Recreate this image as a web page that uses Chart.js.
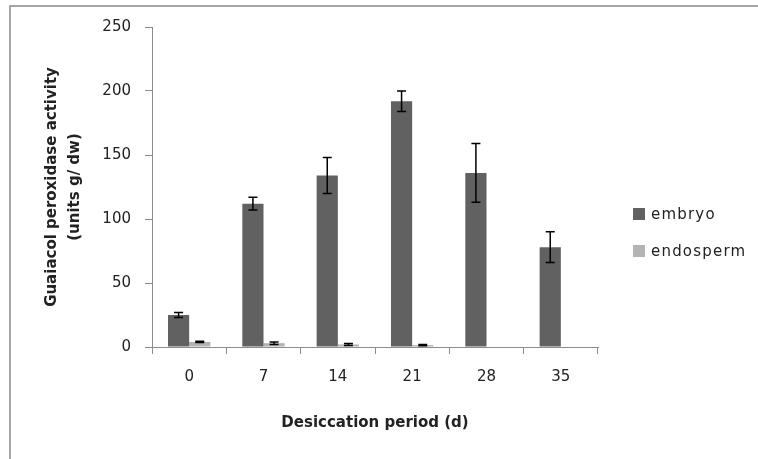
<!DOCTYPE html>
<html>
<head>
<meta charset="utf-8">
<script src="https://cdn.jsdelivr.net/npm/chart.js@4.4.1/dist/chart.umd.min.js"></script>
<style>
  html, body { margin: 0; padding: 0; background: #fff; }
  body { width: 758px; height: 459px; overflow: hidden; position: relative; font-family: "DejaVu Sans", sans-serif; }
  #frame { position: absolute; left: 9px; top: 5px; width: 800px; height: 500px; border-left: 2px solid #a6a6a6; border-top: 2px solid #a6a6a6; }
  #chart { position: absolute; left: 0; top: 0; }
  #legend { position: absolute; left: 633px; top: 207px; font-size: 15px; letter-spacing: 1.2px; color: #222; }
  .item { display: flex; align-items: center; height: 14px; margin-bottom: 23px; }
  .swatch { width: 12px; height: 12px; margin-right: 6px; }
</style>
</head>
<body>
<div id="frame"></div>
<canvas id="chart" width="758" height="459"></canvas>
<div id="legend"></div>
<script>
// values
const periods = ['0', '7', '14', '21', '28', '35'];
const embryo = [25, 112, 134, 192, 136, 78];
const embryoErr = [2, 5, 14, 8, 23, 12];
const endosperm = [4, 3, 2, 1.5, 0, 0];
const endospermErr = [0.5, 1, 0.8, 0.5, 0, 0];
const yTicks = [0, 50, 100, 150, 200, 250];

const font = 'DejaVu Sans';

// little plugin for the error bars
const errorBars = {
  id: 'errorBars',
  afterDatasetsDraw(chart) {
    const ctx = chart.ctx;
    const y = chart.scales.y;
    chart.data.datasets.forEach((ds, i) => {
      const meta = chart.getDatasetMeta(i);
      meta.data.forEach((bar, j) => {
        const v = ds.data[j], e = ds.errors[j];
        if (!e) return;
        const top = y.getPixelForValue(v + e);
        const bot = y.getPixelForValue(v - e);
        ctx.save();
        ctx.strokeStyle = '#000';
        ctx.lineWidth = 1.5;
        ctx.beginPath();
        ctx.moveTo(bar.x, top); ctx.lineTo(bar.x, bot);
        ctx.moveTo(bar.x - 4.5, top); ctx.lineTo(bar.x + 4.5, top);
        ctx.moveTo(bar.x - 4.5, bot); ctx.lineTo(bar.x + 4.5, bot);
        ctx.stroke();
        ctx.restore();
      });
    });
  }
};

const chart = new Chart(document.getElementById('chart'), {
  type: 'bar',
  data: {
    labels: periods,
    datasets: [
      { label: 'embryo', data: embryo, errors: embryoErr, backgroundColor: '#616161' },
      { label: 'endosperm', data: endosperm, errors: endospermErr, backgroundColor: '#b3b3b3' }
    ]
  },
  options: {
    responsive: false,
    animation: false,
    devicePixelRatio: 1,
    layout: { padding: { left: 0, top: 27, right: 160, bottom: 0 } },
    categoryPercentage: 0.57,
    barPercentage: 1.0,
    plugins: { legend: { display: false }, tooltip: { enabled: false } },
    scales: {
      x: {
        grid: { display: true, drawOnChartArea: false, drawTicks: true, tickLength: 7, color: '#8c8c8c', offset: true },
        border: { display: true, color: '#8c8c8c', width: 1 },
        ticks: { color: '#222', font: { family: font, size: 15 }, padding: 14 },
        title: {
          display: true, text: 'Desiccation period (d)', color: '#222',
          font: { family: font, size: 15, weight: 'bold', lineHeight: 1.2 },
          padding: { top: 0, bottom: 27 }
        },
        afterFit(scale) { scale.height = 112; }
      },
      y: {
        min: 0, max: 250,
        afterBuildTicks(scale) { scale.ticks = yTicks.map(v => ({ value: v })); },
        grid: { display: true, drawOnChartArea: false, drawTicks: true, tickLength: 7, color: '#8c8c8c' },
        border: { display: true, color: '#8c8c8c', width: 1 },
        ticks: { color: '#222', font: { family: font, size: 15 }, padding: 14 },
        title: {
          display: true, text: ['Guaiacol peroxidase activity', '(units g/ dw)'], color: '#222',
          font: { family: font, size: 15, weight: 'bold', lineHeight: 1.55 },
          padding: { top: 40, bottom: 0 }
        },
        afterFit(scale) { scale.width = 152; }
      }
    }
  },
  plugins: [errorBars]
});

// legend built from the chart's datasets
const legend = document.getElementById('legend');
chart.data.datasets.forEach(ds => {
  const item = document.createElement('div');
  item.className = 'item';
  const sw = document.createElement('span');
  sw.className = 'swatch';
  sw.style.background = ds.backgroundColor;
  const txt = document.createElement('span');
  txt.textContent = ds.label;
  item.appendChild(sw);
  item.appendChild(txt);
  legend.appendChild(item);
});
</script>
</body>
</html>
